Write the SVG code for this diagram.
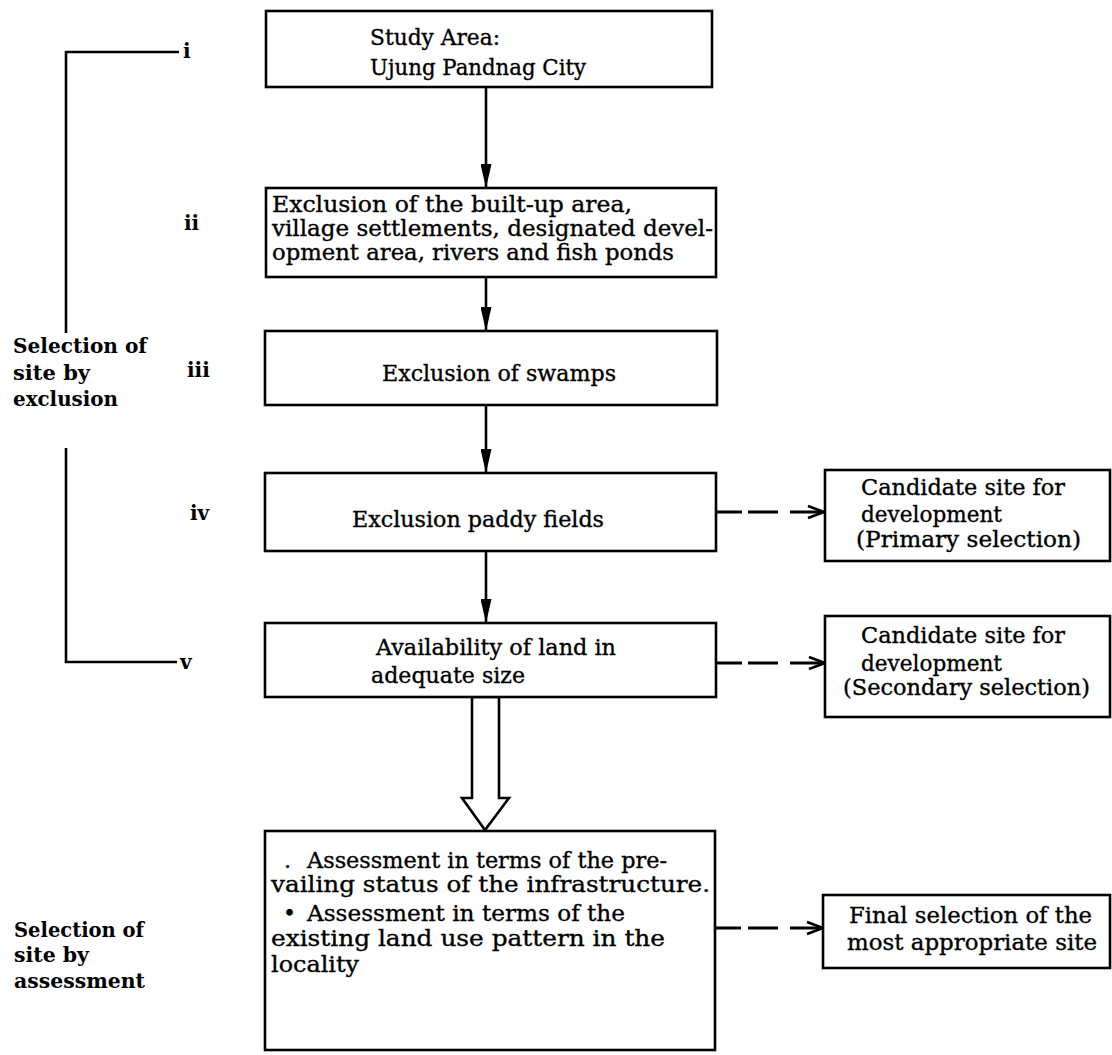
<svg xmlns="http://www.w3.org/2000/svg" width="1112" height="1055" viewBox="0 0 1112 1055">
<style>
.box{fill:#fff;stroke:#000;stroke-width:2.6}
.t{font-family:"DejaVu Serif","Liberation Serif",serif;font-size:22px;fill:#000;stroke:#000;stroke-width:0.35}
.lb{font-family:"DejaVu Serif","Liberation Serif",serif;font-size:20px;font-weight:bold;fill:#000}
.ln{fill:none;stroke:#000;stroke-width:2.6}
.dl{fill:none;stroke:#000;stroke-width:2.8}
</style>
<defs>
<marker id="ah" viewBox="0 0 24 11" refX="24" refY="5.5" markerWidth="24" markerHeight="11" orient="auto" markerUnits="userSpaceOnUse"><path d="M0,0 L24,5.5 L0,11 z" fill="#000"/></marker>
<marker id="oa" viewBox="0 0 18 16" refX="17" refY="8" markerWidth="18" markerHeight="16" orient="auto" markerUnits="userSpaceOnUse"><path d="M1,2 L17,8 L1,14" fill="none" stroke="#000" stroke-width="2.6"/></marker>
</defs>
<rect width="1112" height="1055" fill="#fff"/>

<g id="bracket-exclusion">
<path class="ln" d="M179,52 H66 V333"/>
<path class="ln" d="M66,448 V662 H177"/>
<text class="lb" x="13" y="353" textLength="134" lengthAdjust="spacingAndGlyphs">Selection of</text>
<text class="lb" x="13" y="380" textLength="77" lengthAdjust="spacingAndGlyphs">site by</text>
<text class="lb" x="13" y="406" textLength="105" lengthAdjust="spacingAndGlyphs">exclusion</text>
</g>
<g id="numerals">
<text class="lb" x="183" y="58">i</text>
<text class="lb" x="184" y="230">ii</text>
<text class="lb" x="187" y="377">iii</text>
<text class="lb" x="190" y="520">iv</text>
<text class="lb" x="180" y="669">v</text>
</g>
<g id="label-assessment">
<text class="lb" x="14" y="937" textLength="130" lengthAdjust="spacingAndGlyphs">Selection of</text>
<text class="lb" x="14" y="962" textLength="75" lengthAdjust="spacingAndGlyphs">site by</text>
<text class="lb" x="14" y="988" textLength="131" lengthAdjust="spacingAndGlyphs">assessment</text>
</g>

<g id="connectors">
<path class="ln" d="M486,87 V188" marker-end="url(#ah)"/>
<path class="ln" d="M486,277 V331" marker-end="url(#ah)"/>
<path class="ln" d="M486,405 V473" marker-end="url(#ah)"/>
<path class="ln" d="M486,551 V623" marker-end="url(#ah)"/>
<polygon class="ln" fill="#fff" points="472,697 472,798 462,798 485,830 509,798 499,798 499,697"/>
<path class="dl" d="M716,512 H742 M748,512 H778 M790,512 H824" marker-end="url(#oa)"/>
<path class="dl" d="M716,663 H742 M748,663 H778 M790,663 H825" marker-end="url(#oa)"/>
<path class="dl" d="M715,928 H741 M748,928 H778 M790,928 H823" marker-end="url(#oa)"/>
</g>

<g id="n1">
<rect class="box" x="266" y="11" width="446" height="76"/>
<text class="t" x="370" y="45" textLength="130" lengthAdjust="spacingAndGlyphs">Study Area:</text>
<text class="t" x="370" y="75" textLength="216" lengthAdjust="spacingAndGlyphs">Ujung Pandnag City</text>
</g>
<g id="n2">
<rect class="box" x="266" y="188" width="450" height="89"/>
<text class="t" x="272" y="212" textLength="360" lengthAdjust="spacingAndGlyphs">Exclusion of the built-up area,</text>
<text class="t" x="272" y="236" textLength="441" lengthAdjust="spacingAndGlyphs">village settlements, designated devel-</text>
<text class="t" x="272" y="260" textLength="402" lengthAdjust="spacingAndGlyphs">opment area, rivers and fish ponds</text>
</g>
<g id="n3">
<rect class="box" x="265" y="331" width="452" height="74"/>
<text class="t" x="382" y="381" textLength="234" lengthAdjust="spacingAndGlyphs">Exclusion of swamps</text>
</g>
<g id="n4">
<rect class="box" x="265" y="473" width="451" height="78"/>
<text class="t" x="352" y="527" textLength="252" lengthAdjust="spacingAndGlyphs">Exclusion paddy fields</text>
</g>
<g id="n5">
<rect class="box" x="265" y="623" width="451" height="74"/>
<text class="t" x="376" y="655" textLength="240" lengthAdjust="spacingAndGlyphs">Availability of land in</text>
<text class="t" x="371" y="683" textLength="154" lengthAdjust="spacingAndGlyphs">adequate size</text>
</g>
<g id="n6">
<rect class="box" x="265" y="831" width="450" height="219"/>
<text class="t" x="284" y="868">.</text>
<text class="t" x="307" y="868" textLength="360" lengthAdjust="spacingAndGlyphs">Assessment in terms of the pre-</text>
<text class="t" x="271" y="892" textLength="439" lengthAdjust="spacingAndGlyphs">vailing status of the infrastructure.</text>
<text class="t" x="283" y="921">•</text>
<text class="t" x="307" y="921" textLength="318" lengthAdjust="spacingAndGlyphs">Assessment in terms of the</text>
<text class="t" x="271" y="946" textLength="394" lengthAdjust="spacingAndGlyphs">existing land use pattern in the</text>
<text class="t" x="271" y="972" textLength="88" lengthAdjust="spacingAndGlyphs">locality</text>
</g>
<g id="r1">
<rect class="box" x="825" y="470" width="285" height="91"/>
<text class="t" x="861" y="495" textLength="204" lengthAdjust="spacingAndGlyphs">Candidate site for</text>
<text class="t" x="861" y="522" textLength="141" lengthAdjust="spacingAndGlyphs">development</text>
<text class="t" x="856" y="547" textLength="225" lengthAdjust="spacingAndGlyphs">(Primary selection)</text>
</g>
<g id="r2">
<rect class="box" x="825" y="616" width="285" height="101"/>
<text class="t" x="861" y="643" textLength="204" lengthAdjust="spacingAndGlyphs">Candidate site for</text>
<text class="t" x="861" y="671" textLength="141" lengthAdjust="spacingAndGlyphs">development</text>
<text class="t" x="843" y="695" textLength="247" lengthAdjust="spacingAndGlyphs">(Secondary selection)</text>
</g>
<g id="r3">
<rect class="box" x="823" y="895" width="287" height="73"/>
<text class="t" x="849" y="923" textLength="243" lengthAdjust="spacingAndGlyphs">Final selection of the</text>
<text class="t" x="847" y="950" textLength="250" lengthAdjust="spacingAndGlyphs">most appropriate site</text>
</g>
</svg>
